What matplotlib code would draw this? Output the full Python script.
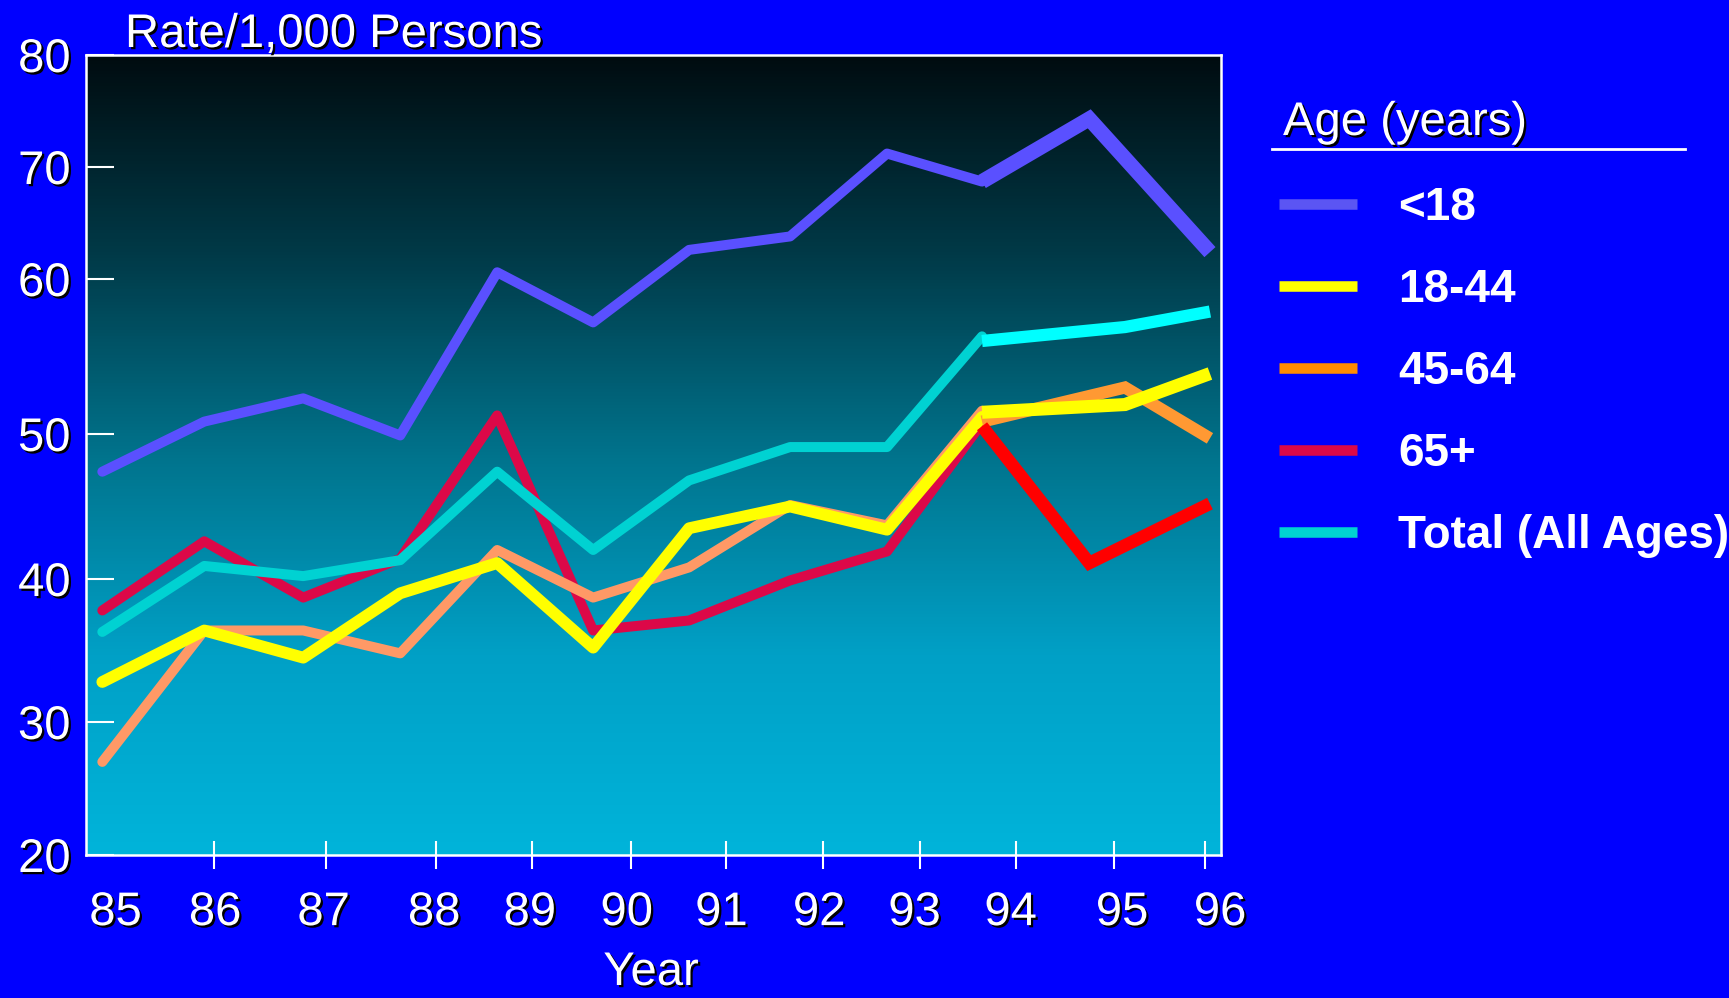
import numpy as np
import matplotlib
matplotlib.use("Agg")
import matplotlib.pyplot as plt
from matplotlib.lines import Line2D
import matplotlib.patheffects as pe
from matplotlib.ticker import FixedLocator, FixedFormatter, NullFormatter

plt.rcParams['font.family'] = ['Liberation Sans', 'DejaVu Sans']

# ---------------- data ----------------
years = [85, 86, 87, 88, 89, 90, 91, 92, 93, 94]
under18  = [47.4, 50.8, 52.3, 49.9, 60.6, 57.2, 62.6, 63.8, 71.2, 68.7]
age18_44 = [32.8, 36.4, 34.5, 39.0, 41.1, 35.2, 43.5, 45.0, 43.4, 51.1]
age45_64 = [27.0, 36.4, 36.4, 34.8, 42.0, 38.7, 40.8, 45.1, 43.7, 51.5]
age65p   = [37.8, 42.6, 38.7, 41.4, 51.2, 36.4, 37.1, 39.9, 41.9, 50.7]
total    = [36.3, 40.9, 40.2, 41.3, 47.4, 42.0, 46.8, 49.1, 49.1, 56.3]

late_years     = [94, 95, 96]
late_years_alt = [94, 94.75, 96]
under18_late  = [68.7, 74.3, 62.4]   # on late_years_alt
age18_44_late = [51.4, 51.9, 53.9]
age45_64_late = [50.8, 53.0, 49.7]
age65p_late   = [50.5, 41.1, 45.2]   # on late_years_alt
total_late    = [56.0, 56.9, 57.9]

legend_labels = ['<18', '18-44', '45-64', '65+', 'Total (All Ages)']
x_tick_labels = ['85', '86', '87', '88', '89', '90', '91', '92', '93', '94', '95', '96']
y_ticks = [20, 30, 40, 50, 60, 70, 80]

# ---------------- scales (uneven axes of the original slide) ----------------
x_anchor_years = [85, 86, 87, 88, 89, 90, 91, 92, 93, 94, 95, 96]
x_anchor_pos   = [102, 204, 303, 400, 497, 593, 689, 790, 887, 982, 1125, 1210]
y_anchor_vals  = [20, 30, 40, 50, 60, 70, 80]
y_anchor_pos   = [0, 133, 276, 421, 576, 688, 800]

x_label_pos = [85.13, 86.11, 87.21, 88.35, 89.34, 90.35, 91.32, 92.30, 93.29, 94.20, 94.98, 96.12]
x_mark_pos  = [86.10, 87.23, 88.37, 89.36, 90.39, 91.37, 92.34, 93.35, 94.24, 94.92, 95.94]


def piecewise(src, dst):
    src = np.asarray(src, float)
    dst = np.asarray(dst, float)
    s0 = (dst[1] - dst[0]) / (src[1] - src[0])
    s1 = (dst[-1] - dst[-2]) / (src[-1] - src[-2])

    def f(v):
        v = np.asarray(v, float)
        out = np.interp(v, src, dst)
        out = np.where(v < src[0], dst[0] + (v - src[0]) * s0, out)
        out = np.where(v > src[-1], dst[-1] + (v - src[-1]) * s1, out)
        return out
    return f


xf, xi = piecewise(x_anchor_years, x_anchor_pos), piecewise(x_anchor_pos, x_anchor_years)
yf, yi = piecewise(y_anchor_vals, y_anchor_pos), piecewise(y_anchor_pos, y_anchor_vals)

# ---------------- figure ----------------
W, H = 1729, 998
fig = plt.figure(figsize=(W / 100, H / 100), dpi=100, facecolor='#0000FF')
pos = [86 / W, 1 - 855 / H, (1221 - 86) / W, (855 - 55) / H]

# gradient background
bg = fig.add_axes(pos, zorder=0)
t = np.linspace(0, 1, 256)
stops_t = [0.0, 0.25, 0.5, 0.75, 1.0]
stops_c = np.array([[0, 12, 16], [0, 58, 72], [0, 115, 140], [0, 160, 198], [0, 180, 218]]) / 255.0
grad = np.stack([np.interp(t, stops_t, stops_c[:, k]) for k in range(3)], axis=-1)
bg.imshow(grad[:, None, :], aspect='auto', extent=[0, 1, 0, 1], origin='upper')
bg.axis('off')

ax = fig.add_axes(pos, zorder=1)
ax.set_facecolor('none')
ax.set_xscale('function', functions=(xf, xi))
ax.set_yscale('function', functions=(yf, yi))

shadow = [pe.withSimplePatchShadow(offset=(1.6, -1.6), shadow_rgbFace='black', alpha=1.0)]

# thin (historic) lines
thin = dict(solid_capstyle='round', solid_joinstyle='round')
ax.plot(years, under18, color='#5A50FF', lw=7.2, zorder=3, **thin)
ax.plot(years, age65p, color='#DC0848', lw=7.2, zorder=4, **thin)
ax.plot(years, age45_64, color='#FF9966', lw=7.2, zorder=5, **thin)
ax.plot(years, total, color='#00D2D2', lw=7.2, zorder=6, **thin)
ax.plot(years, age18_44, color='#FFFF00', lw=8.5, zorder=7, **thin)

# thick (recent) lines
thick = dict(solid_capstyle='butt', solid_joinstyle='miter')
ax.plot(late_years, age45_64_late, color='#FF9933', lw=8.8, zorder=8, **thick)
ax.plot(late_years_alt, age65p_late, color='#FF0000', lw=9.2, zorder=9, **thick)
ax.plot(late_years, total_late, color='#00FFFF', lw=8.8, zorder=10, **thick)
ax.plot(late_years, age18_44_late, color='#FFFF00', lw=9.4, zorder=11, **thick)
ax.plot(late_years_alt, under18_late, color='#5A50FF', lw=10.8, zorder=12, **thick)

ax.set_xlim(84.84, 96.13)
ax.set_ylim(20, 80)

for s in ax.spines.values():
    s.set_color('white')
    s.set_linewidth(1.8)

# x axis: labels (major, no marks) + tick marks (minor)
ax.xaxis.set_major_locator(FixedLocator(x_label_pos))
ax.xaxis.set_major_formatter(FixedFormatter(x_tick_labels))
ax.xaxis.set_minor_locator(FixedLocator(x_mark_pos))
ax.xaxis.set_minor_formatter(NullFormatter())
ax.tick_params(axis='x', which='major', length=0, pad=26, labelsize=34, labelcolor='white')
ax.tick_params(axis='x', which='minor', direction='inout', length=20, width=1.5, color='white')

# y axis
ax.yaxis.set_major_locator(FixedLocator(y_ticks))
ax.yaxis.set_major_formatter(FixedFormatter([str(v) for v in y_ticks]))
ax.yaxis.set_minor_locator(FixedLocator([]))
ax.tick_params(axis='y', which='major', direction='in', length=20, width=1.5, color='white',
               pad=11, labelsize=34, labelcolor='white')

for lab in ax.get_xticklabels() + ax.get_yticklabels():
    lab.set_path_effects(shadow)

# titles
fig.text(125 / W, 1 - 47 / H, 'Rate/1,000 Persons', fontsize=34, color='white',
         va='baseline', ha='left', path_effects=shadow, zorder=20)
fig.text(651 / W, 1 - 951 / H, 'Year', fontsize=34, color='white',
         va='top', ha='center', path_effects=shadow, zorder=20)

# legend
fig.text(1283 / W, 1 - 135 / H, 'Age (years)', fontsize=34, color='white',
         va='baseline', ha='left', path_effects=shadow, zorder=20)
fig.add_artist(Line2D([1272 / W, 1685 / W], [1 - 149 / H, 1 - 149 / H],
                      transform=fig.transFigure, color='white', lw=2))

legend_colors = ['#5B55F3', '#FFFF00', '#FF8C00', '#DC0848', '#00D2D2']
handles = [Line2D([0], [0], color=c, lw=7.6, solid_capstyle='butt') for c in legend_colors]
leg = fig.legend(handles, legend_labels, loc='upper left',
                 bbox_to_anchor=(1279 / W, 1 - 186 / H), frameon=False,
                 borderpad=0, borderaxespad=0, handlelength=1.7, handletextpad=0.9,
                 labelspacing=0.83, prop={'size': 33, 'weight': 'bold'})
for txt in leg.get_texts():
    txt.set_color('white')

fig.savefig('out.png', dpi=100, facecolor=fig.get_facecolor())
